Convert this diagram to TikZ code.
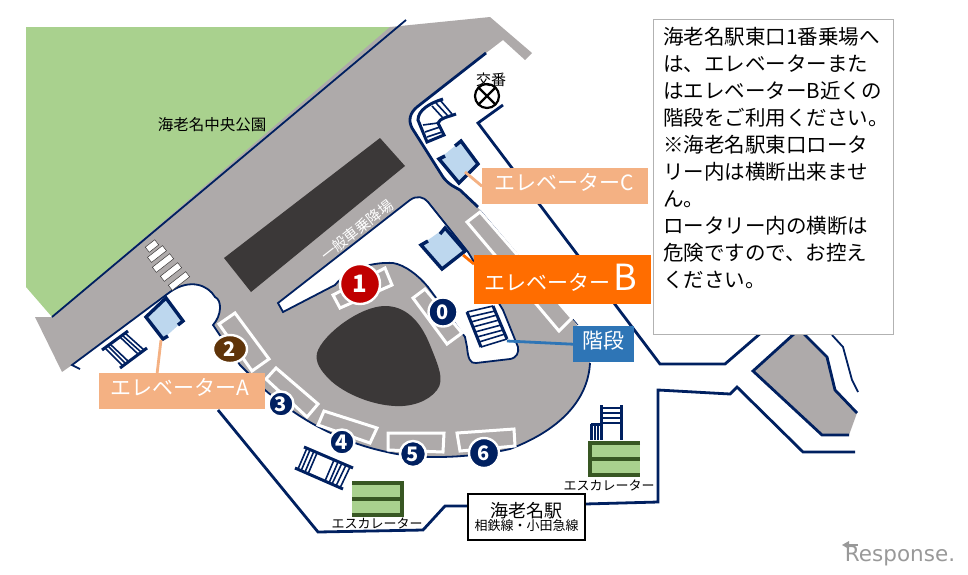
\documentclass[tikz,border=0pt]{standalone}
\usepackage{xcolor}
\usepackage{tikz}
\usepackage{fontspec}
\setmainfont{Noto Sans CJK JP}
\newfontfamily\logofont{DejaVu Sans}
\usetikzlibrary{shapes.geometric}

\definecolor{wallnavy}{HTML}{002060}
\definecolor{roadgray}{HTML}{AEAAAA}
\definecolor{lakedark}{HTML}{3B3838}
\definecolor{parkgreen}{HTML}{A9D18E}
\definecolor{escgreen}{HTML}{385723}
\definecolor{elevblue}{HTML}{BDD7EE}
\definecolor{labelpeach}{HTML}{F4B183}
\definecolor{labelorange}{HTML}{FF6D00}
\definecolor{labelblue}{HTML}{2E75B6}
\definecolor{stopred}{HTML}{C00000}
\definecolor{stopbrown}{HTML}{5F3409}

\tikzset{
  wall/.style={draw=wallnavy,line width=2.8pt,line join=miter},
  thinwall/.style={draw=wallnavy,line width=1.8pt},
  bay/.style={draw=white,line width=3pt,fill=roadgray},
  elevframe/.style={draw=wallnavy,line width=3.4pt,line join=miter},
  rail/.style={draw=wallnavy,line width=3pt},
  tread/.style={draw=wallnavy,line width=1.6pt},
  escbar/.style={draw=escgreen,line width=4.4pt},
  callout/.style={line width=2.8pt},
  stripebar/.style={draw=lakedark,line width=0.5pt,fill=white,rotate=38,minimum height=6.5pt,inner sep=0pt},
  stopnum/.style={circle,draw=white,line width=2.4pt,text=white,minimum size=29pt,inner sep=0pt,font=\bfseries\fontsize{20}{20}\selectfont},
  signlabel/.style={text=white,inner sep=0pt,anchor=north west,font=\fontsize{21}{21}\selectfont},
  smalltext/.style={inner sep=0.75pt,font=\fontsize{13}{13}\selectfont}
}

\begin{document}
\begin{tikzpicture}[x=1pt,y=1pt,yscale=-1,xscale=1]
\useasboundingbox (0,0) rectangle (968,574);

\fill [parkgreen] (26,27) -- (391,27) -- (52,317) -- (26,287) -- cycle ;
\fill [roadgray] (35,317) -- (52,317) -- (390,27) -- (490,17) -- (532,53) -- (525,60) -- (503,40) -- (486,53) -- (417,107) .. controls (410,113) and (408,120) .. (412,128) -- (443,177) .. controls (449,185) and (455,187) .. (460,190) -- (480,210) -- (572,318) -- (590,345) -- (590,363) .. controls (588,400) and (560,430) .. (510,449) .. controls (470,458) and (420,460) .. (387,452) .. controls (340,442) and (300,420) .. (265,390) -- (240,365) -- (213,325) .. controls (222,315) and (222,300) .. (215,297) .. controls (208,285) and (190,278) .. (170,292) -- (72,365) -- (62,372) -- cycle ;

\fill [roadgray] (753,371) -- (795,333) -- (803,333) -- (827,357) -- (835,390) -- (857,413) -- (849,435) -- (822,435) -- cycle ;
\draw [wall] (795,333) -- (753,371) -- (822,435) -- (849,435) ;
\draw [wall] (803,333) -- (827,357) -- (835,390) -- (857,413) ;
\draw [thinwall] (832,335) -- (843,347) -- (852,380) -- (858,392) ;

\fill [lakedark] (380,138) -- (405,166) -- (251,292) -- (224,258) -- cycle ;
\fill [lakedark] (317,353) .. controls (322,335) and (360,306) .. (385,306) .. controls (405,306) and (420,320) .. (430,345) .. controls (438,365) and (445,380) .. (437,390) .. controls (428,402) and (410,407) .. (395,406) .. controls (372,405) and (345,394) .. (330,380) .. controls (320,370) and (315,362) .. (317,353) -- cycle ;

\draw [thinwall] (52,317) -- (406,20) ;
\draw [wall] (486,53) -- (417,107) .. controls (410,113) and (408,120) .. (412,128) -- (443,177) .. controls (449,185) and (455,187) .. (460,190) -- (478,207) ;
\draw [thinwall] (80,369) -- (72,365) -- (170,292) .. controls (190,278) and (208,285) .. (215,297) .. controls (222,300) and (222,315) .. (213,325) -- (240,365) -- (265,390) .. controls (300,420) and (340,442) .. (387,452) .. controls (420,460) and (470,458) .. (510,449) .. controls (560,430) and (588,400) .. (590,363) ;
\draw [draw=wallnavy,line width=0.7pt] (480,210) -- (578,325) ;

\draw [wall] (218,410) -- (318,532) -- (423,530) -- (445,506) -- (470,506) ;
\draw [wall] (585,504) -- (658,502) -- (658,390) -- (730,394) -- (737,387) -- (803,452) -- (855,452) ;
\draw [wall] (503,105) -- (478,123) -- (660,364) -- (725,364) -- (762,332) ;

\draw [fill=white,thinwall] (278,303) -- (283,312) -- (335,285) .. controls (350,267) and (375,262) .. (393,263) .. controls (405,265) and (418,275) .. (428,287) -- (465,337) -- (467,347) .. controls (468,358) and (470,364) .. (476,363) -- (510,359) .. controls (517,358) and (519,352) .. (518,347) -- (503,310) -- (468,252) -- (428,202) .. controls (424,197) and (417,195) .. (410,200) -- cycle ;

\draw [bay] (467,222) -- (480,212) -- (572,318) -- (559,331) -- cycle ;
\draw [bay] (413,298) -- (425,289) -- (462,333) -- (447,344) -- cycle ;
\draw [bay] (333,295) -- (385,268) -- (392,285) -- (340,308) -- cycle ;
\draw [bay] (219,324) -- (235,313) -- (269,359) -- (252,371) -- cycle ;
\draw [bay] (266,379) -- (276,368) -- (318,404) -- (307,417) -- cycle ;
\draw [bay] (318,425) -- (324,411) -- (377,428) -- (370,443) -- cycle ;
\draw [bay] (388,433) -- (444,433) -- (443,452) -- (388,450) -- cycle ;
\draw [bay] (457,433) -- (514,429) -- (515,446) -- (460,451) -- cycle ;

\draw (152,246) node (stripeA) [stripebar,minimum width=12pt] {};
\draw (157,254) node (stripeB) [stripebar,minimum width=19pt] {};
\draw (163,263) node (stripeC) [stripebar,minimum width=22pt] {};
\draw (171,272) node (stripeD) [stripebar,minimum width=22pt] {};
\draw (179,281) node (stripeE) [stripebar,minimum width=22pt] {};

\fill [elevblue] (183,321) -- (166,298) -- (146,317) -- (163,339) -- cycle ;
\draw [elevframe] (178,325) -- (183,321) -- (166,298) -- (146,317) -- (163,339) -- (168,336) ;
\fill [elevblue] (445,228) -- (465,251) -- (442,269) -- (421,245) -- cycle ;
\draw [elevframe] (440,234) -- (445,228) -- (465,251) -- (442,269) -- (421,245) -- (428,241) ;
\fill [elevblue] (439,159) -- (459,183) -- (478,164) -- (461,141) -- cycle ;
\draw [elevframe] (445,156) -- (439,159) -- (459,183) -- (478,164) -- (461,141) -- (455,146) ;

\draw [rail] (102,350) -- (128,331) ;
\draw [rail] (120,368) -- (147,348) ;
\draw [tread] (105,348) -- (123,366) ;
\draw [tread] (108,346) -- (126,364) ;
\draw [tread] (110,344) -- (129,362) ;
\draw [tread] (120,337) -- (138,354) ;
\draw [tread] (122,335) -- (141,352) ;
\draw [tread] (125,333) -- (144,350) ;

\draw [rail] (467,312) -- (481,347) ;
\draw [rail] (493,306) -- (507,339) ;
\draw [tread] (467,312) -- (493,306) ;
\draw [tread] (469,317) -- (495,311) ;
\draw [tread] (471,322) -- (497,315) ;
\draw [tread] (473,327) -- (499,320) ;
\draw [tread] (475,332) -- (501,325) ;
\draw [tread] (477,337) -- (503,330) ;
\draw [tread] (479,342) -- (505,334) ;
\draw [tread] (481,347) -- (507,339) ;

\draw [rail] (304,447) -- (353,468) ;
\draw [rail] (295,468) -- (343,489) ;
\draw [tread] (307,448) -- (298,469) ;
\draw [tread] (310,450) -- (301,471) ;
\draw [tread] (314,451) -- (305,472) ;
\draw [tread] (317,453) -- (308,474) ;
\draw [tread] (334,460) -- (325,481) ;
\draw [tread] (338,462) -- (329,483) ;
\draw [tread] (342,463) -- (332,484) ;
\draw [tread] (346,465) -- (336,486) ;
\draw [tread] (350,467) -- (340,488) ;

\draw [rail] (601,405) -- (601,440) ;
\draw [rail] (621,405) -- (621,440) ;
\draw [rail] (591,424) -- (601,424) ;
\draw [rail] (591,424) -- (591,440) ;
\draw [tread] (601,408) -- (621,408) ;
\draw [tread] (601,413) -- (621,413) ;
\draw [tread] (601,418) -- (621,418) ;
\draw [tread] (601,423) -- (621,423) ;
\draw [tread] (595,425) -- (595,440) ;
\draw [tread] (598,425) -- (598,440) ;

\draw [rail] (443,99) .. controls (430,103) and (418,110) .. (418,120) -- (427,142) -- (444,135) -- (438,123) .. controls (440,118) and (448,117) .. (456,114) ;
\draw [tread] (432,106) -- (443,118) ;
\draw [tread] (436,103) -- (448,116) ;
\draw [tread] (440,100) -- (452,114) ;
\draw [tread] (423,125) -- (438,123) ;
\draw [tread] (425,132) -- (440,127) ;
\draw [tread] (427,137) -- (442,132) ;

\fill [parkgreen] (352,481) rectangle (404,517) ;
\draw [escbar] (352,483) -- (402,483) -- (402,515) -- (352,515) ;
\draw [escbar] (352,499) -- (402,499) ;
\fill [parkgreen] (588,441) rectangle (640,477) ;
\draw [escbar] (640,443) -- (590,443) -- (590,475) -- (640,475) ;
\draw [escbar] (590,459) -- (640,459) ;

\draw [line width=2.2pt] (487,96) circle (12) ;
\draw [line width=2.2pt] (479,88) -- (495,104) ;
\draw [line width=2.2pt] (495,88) -- (479,104) ;

\coordinate (elevAtip) at (161,340);
\coordinate (elevBtip) at (463,255);
\coordinate (elevCtip) at (465,172);
\coordinate (stairtip) at (507,341);

\draw (99,373) node (labelA) [anchor=north west,fill=labelpeach,minimum width=166pt,minimum height=36pt,inner sep=0pt] {};
\draw (482,168) node (labelC) [anchor=north west,fill=labelpeach,minimum width=166pt,minimum height=36pt,inner sep=0pt] {};
\draw (474,255) node (labelB) [anchor=north west,fill=labelorange,minimum width=177pt,minimum height=49pt,inner sep=0pt] {};
\draw (573,326) node (labelStair) [anchor=north west,fill=labelblue,minimum width=61pt,minimum height=36pt,inner sep=0pt] {};
\draw [callout,labelpeach] (elevAtip) -- (labelA.144) ;
\draw [callout,labelpeach] (elevCtip) -- (labelC.west) ;
\draw [callout,labelorange] (elevBtip) -- (labelB.170) ;
\draw [callout,labelblue] (stairtip) -- (labelStair.west) ;

\draw (110,378) node (textA) [signlabel] {エレベーターA};
\draw (494,173) node (textC) [signlabel] {エレベーターC};
\draw (484,264) node (textB) [signlabel] {エレベーター\,\fontsize{36}{36}\selectfont B};
\draw (582,331) node (textStair) [signlabel] {階段};

\draw (360,284) node (stop1) [stopnum,fill=stopred,minimum size=40pt,font=\bfseries\fontsize{24}{24}\selectfont] {1};
\draw (443,312) node (stop0) [stopnum,fill=wallnavy] {0};
\draw (230,349) node (stop2) [stopnum,ellipse,fill=stopbrown,minimum width=34pt,minimum height=28pt] {2};
\draw (281,404) node (stop3) [stopnum,fill=wallnavy,minimum size=25pt] {3};
\draw (342,442) node (stop4) [stopnum,fill=wallnavy,minimum size=25pt] {4};
\draw (413,454) node (stop5) [stopnum,fill=wallnavy,minimum size=26pt] {5};
\draw (484,453) node (stop6) [stopnum,fill=wallnavy,minimum size=30pt] {6};

\draw (526.5,517) node (station) [draw,fill=white,line width=1.4pt,minimum width=117pt,minimum height=46pt,inner sep=0pt,align=center] {{\fontsize{18}{20}\selectfont 海老名駅}\\{\fontsize{13}{15}\selectfont 相鉄線・小田急線}};

\draw (377,523) node (escA) [smalltext] {エスカレーター};
\draw (609,485) node (escB) [smalltext] {エスカレーター};
\draw (491,80) node (koban) [inner sep=0pt,font=\fontsize{15}{15}\selectfont] {交番};
\draw (212,125) node (parkname) [inner sep=0pt,font=\fontsize{15.5}{15.5}\selectfont] {海老名中央公園};
\draw (357,230) node (dropoff) [inner sep=0pt,text=white,rotate=38,font=\fontsize{14.5}{14.5}\selectfont] {一般車乗降場};

\draw (653,19) node (notebox) [anchor=north west,draw=black!30,line width=1pt,fill=white,minimum width=240pt,minimum height=315pt,inner sep=0pt] {};
\draw (663,27) node (notetext) [anchor=north west,inner sep=0pt,align=left,font=\fontsize{20.5}{27}\selectfont] {海老名駅東口1番乗場へ\\は、エレベーターまた\\はエレベーターB近くの\\階段をご利用ください。\\※海老名駅東口ロータ\\リー内は横断出来ませ\\ん。\\ロータリー内の横断は\\危険ですので、お控え\\ください。};

\draw (900,556) node (logo) [inner sep=0pt,text=black!40,font=\logofont\fontsize{21.5}{21.5}\selectfont] {Response.};
\fill [black!40] (842,545) -- (849,541) -- (849,549) -- cycle ;
\draw [black!40,line width=1.6pt] (848,545) -- (858,545) ;

\end{tikzpicture}
\end{document}
